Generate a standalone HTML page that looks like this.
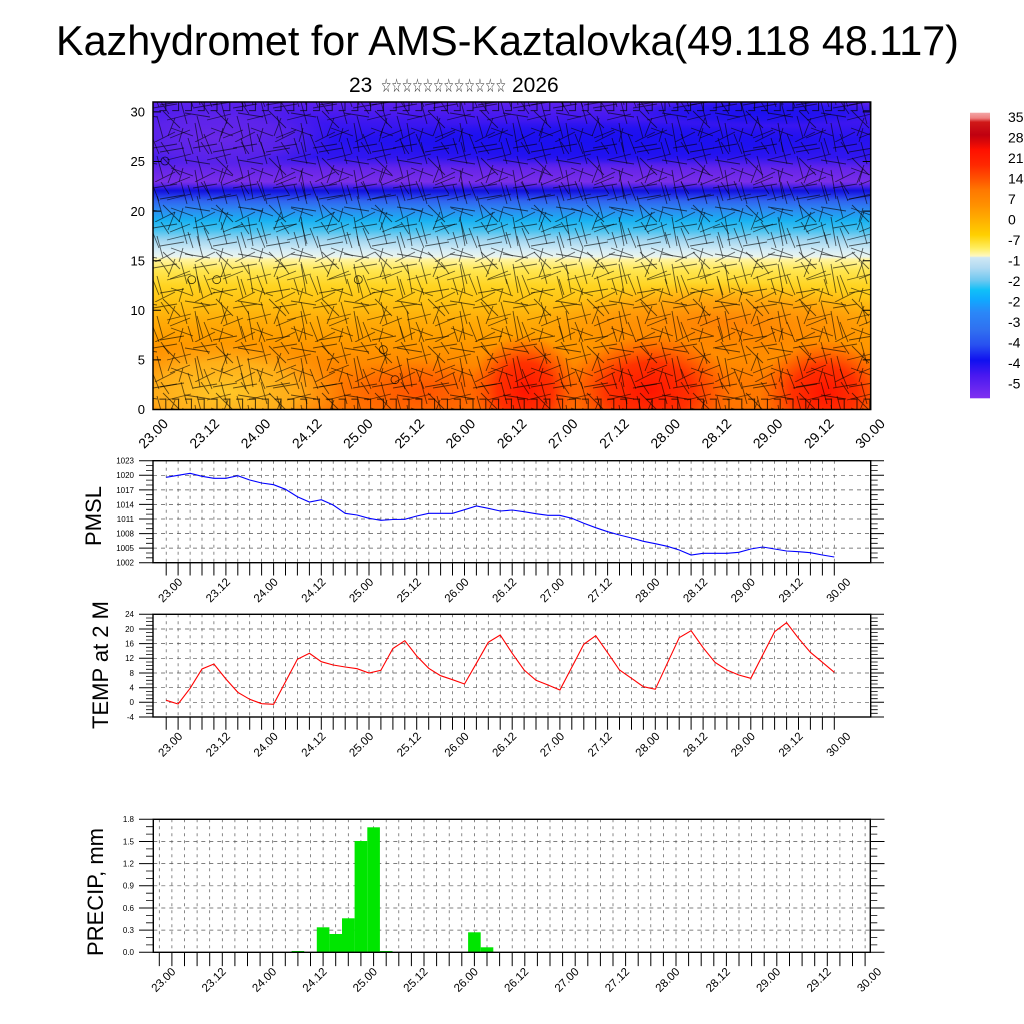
<!DOCTYPE html>
<html><head><meta charset="utf-8"><style>
html,body{margin:0;padding:0;background:#fff;overflow:hidden;width:1024px;height:1024px}
svg{display:block;font-family:"Liberation Sans","DejaVu Sans",sans-serif}
</style></head><body>
<svg width="1024" height="1024" viewBox="0 0 1024 1024" xmlns="http://www.w3.org/2000/svg">
<defs>
<linearGradient id="tg" gradientUnits="userSpaceOnUse" x1="0" y1="102" x2="0" y2="409.5">
<stop offset="0" stop-color="#5e22ec"/><stop offset="0.05" stop-color="#4418f0"/><stop offset="0.12" stop-color="#2612f0"/><stop offset="0.18" stop-color="#3016f0"/><stop offset="0.215" stop-color="#6424ea"/><stop offset="0.26" stop-color="#7a2ee8"/><stop offset="0.275" stop-color="#4a20e8"/><stop offset="0.288" stop-color="#1010dc"/><stop offset="0.302" stop-color="#2030e8"/><stop offset="0.322" stop-color="#3064f0"/><stop offset="0.352" stop-color="#2c8cf2"/><stop offset="0.386" stop-color="#18b2f2"/><stop offset="0.418" stop-color="#48c2f0"/><stop offset="0.45" stop-color="#a2d6f0"/><stop offset="0.482" stop-color="#d4ecf6"/><stop offset="0.503" stop-color="#eaf4ee"/><stop offset="0.512" stop-color="#fff4a0"/><stop offset="0.548" stop-color="#ffe650"/><stop offset="0.597" stop-color="#ffd422"/><stop offset="0.645" stop-color="#ffc414"/><stop offset="0.71" stop-color="#ffac08"/><stop offset="0.775" stop-color="#ff9c00"/><stop offset="0.84" stop-color="#ff8c00"/><stop offset="0.905" stop-color="#ff7c00"/><stop offset="1" stop-color="#ff7400"/>
</linearGradient>
<radialGradient id="rg"><stop offset="0" stop-color="#ff1400"/><stop offset="0.5" stop-color="#ff2400" stop-opacity="0.85"/><stop offset="1" stop-color="#ff4000" stop-opacity="0"/></radialGradient>
<radialGradient id="og"><stop offset="0" stop-color="#ff5200"/><stop offset="0.6" stop-color="#ff6000" stop-opacity="0.6"/><stop offset="1" stop-color="#ff7000" stop-opacity="0"/></radialGradient>
<radialGradient id="yg"><stop offset="0" stop-color="#ffc828"/><stop offset="0.6" stop-color="#ffbc20" stop-opacity="0.75"/><stop offset="1" stop-color="#ffb018" stop-opacity="0"/></radialGradient>
<radialGradient id="pg"><stop offset="0" stop-color="#6a28e8"/><stop offset="0.6" stop-color="#6a28e8" stop-opacity="0.7"/><stop offset="1" stop-color="#6a28e8" stop-opacity="0"/></radialGradient>
<radialGradient id="bgr"><stop offset="0" stop-color="#1a10f0"/><stop offset="0.6" stop-color="#1a10f0" stop-opacity="0.7"/><stop offset="1" stop-color="#1a10f0" stop-opacity="0"/></radialGradient>
<pattern id="wA" patternUnits="userSpaceOnUse" x="153" y="102" width="40" height="40">
<path d="M0 6L24 2M28 0L34 22M4 14L10 36M14 18L38 12M18 26L40 34M2 40L22 30M30 26L26 40M8 0L16 12" stroke="#000" stroke-opacity="0.6" stroke-width="0.9" fill="none"/>
</pattern>
<pattern id="wB" patternUnits="userSpaceOnUse" x="160" y="108" width="53" height="47">
<path d="M3 3L20 20M25 5L50 9M10 30L30 22M35 15L40 44M0 44L24 40M44 26L52 46M15 10L8 28M28 30L33 46" stroke="#000" stroke-opacity="0.6" stroke-width="0.9" fill="none"/>
</pattern>
<pattern id="bb" patternUnits="userSpaceOnUse" x="146.6" y="398.5" width="12.8" height="11">
<path d="M6.4 0V11M0 0.6H7" stroke="#000" stroke-opacity="0.75" stroke-width="1" fill="none"/>
</pattern>
<pattern id="bt" patternUnits="userSpaceOnUse" x="146.6" y="102" width="12.8" height="10">
<path d="M6.4 0V9M0 8.6H7" stroke="#000" stroke-opacity="0.7" stroke-width="1" fill="none"/>
</pattern>
<clipPath id="tc"><rect x="153" y="102" width="717.7" height="307.5"/></clipPath>
<linearGradient id="cb" x1="0" y1="0" x2="0" y2="1">
<stop offset="0" stop-color="#f4a6a6"/><stop offset="0.019" stop-color="#ee8080"/><stop offset="0.033" stop-color="#d01818"/><stop offset="0.078" stop-color="#c00010"/><stop offset="0.106" stop-color="#e00808"/><stop offset="0.13" stop-color="#ff1000"/><stop offset="0.183" stop-color="#ff2800"/><stop offset="0.229" stop-color="#ff5000"/><stop offset="0.271" stop-color="#ff7800"/><stop offset="0.323" stop-color="#ff9000"/><stop offset="0.376" stop-color="#ffb000"/><stop offset="0.428" stop-color="#ffd000"/><stop offset="0.474" stop-color="#ffee60"/><stop offset="0.502" stop-color="#fff8c0"/><stop offset="0.507" stop-color="#d0e8f4"/><stop offset="0.544" stop-color="#b0daf2"/><stop offset="0.586" stop-color="#70c8f0"/><stop offset="0.621" stop-color="#10c0f8"/><stop offset="0.656" stop-color="#10a8ff"/><stop offset="0.698" stop-color="#2a88f8"/><stop offset="0.761" stop-color="#3070f0"/><stop offset="0.814" stop-color="#2850f0"/><stop offset="0.867" stop-color="#1010f0"/><stop offset="0.919" stop-color="#4818f0"/><stop offset="1" stop-color="#8030f0"/>
</linearGradient>
<path id="gv" d="M166.2 0v102M178.1 0v102M190.1 0v102M202.0 0v102M213.9 0v102M225.9 0v102M237.8 0v102M249.7 0v102M261.6 0v102M273.6 0v102M285.5 0v102M297.4 0v102M309.4 0v102M321.3 0v102M333.2 0v102M345.2 0v102M357.1 0v102M369.0 0v102M380.9 0v102M392.9 0v102M404.8 0v102M416.7 0v102M428.7 0v102M440.6 0v102M452.5 0v102M464.5 0v102M476.4 0v102M488.3 0v102M500.2 0v102M512.2 0v102M524.1 0v102M536.0 0v102M548.0 0v102M559.9 0v102M571.8 0v102M583.8 0v102M595.7 0v102M607.6 0v102M619.5 0v102M631.5 0v102M643.4 0v102M655.3 0v102M667.3 0v102M679.2 0v102M691.1 0v102M703.1 0v102M715.0 0v102M726.9 0v102M738.8 0v102M750.8 0v102M762.7 0v102M774.6 0v102M786.6 0v102M798.5 0v102M810.4 0v102M822.4 0v102M834.3 0v102"/>
<path id="tk" d="M166.2 0v12.8M178.1 0v12.8M190.1 0v12.8M202.0 0v12.8M213.9 0v12.8M225.9 0v12.8M237.8 0v12.8M249.7 0v12.8M261.6 0v12.8M273.6 0v12.8M285.5 0v12.8M297.4 0v12.8M309.4 0v12.8M321.3 0v12.8M333.2 0v12.8M345.2 0v12.8M357.1 0v12.8M369.0 0v12.8M380.9 0v12.8M392.9 0v12.8M404.8 0v12.8M416.7 0v12.8M428.7 0v12.8M440.6 0v12.8M452.5 0v12.8M464.5 0v12.8M476.4 0v12.8M488.3 0v12.8M500.2 0v12.8M512.2 0v12.8M524.1 0v12.8M536.0 0v12.8M548.0 0v12.8M559.9 0v12.8M571.8 0v12.8M583.8 0v12.8M595.7 0v12.8M607.6 0v12.8M619.5 0v12.8M631.5 0v12.8M643.4 0v12.8M655.3 0v12.8M667.3 0v12.8M679.2 0v12.8M691.1 0v12.8M703.1 0v12.8M715.0 0v12.8M726.9 0v12.8M738.8 0v12.8M750.8 0v12.8M762.7 0v12.8M774.6 0v12.8M786.6 0v12.8M798.5 0v12.8M810.4 0v12.8M822.4 0v12.8M834.3 0v12.8"/>
<path id="pv" d="M159.3 0v133M171.9 0v133M184.5 0v133M197.1 0v133M209.7 0v133M222.3 0v133M234.9 0v133M247.5 0v133M260.1 0v133M272.7 0v133M285.3 0v133M297.9 0v133M310.5 0v133M323.1 0v133M335.7 0v133M348.3 0v133M360.9 0v133M373.6 0v133M386.2 0v133M398.8 0v133M411.4 0v133M424.0 0v133M436.6 0v133M449.2 0v133M461.8 0v133M474.4 0v133M487.0 0v133M499.6 0v133M512.2 0v133M524.8 0v133M537.4 0v133M550.0 0v133M562.6 0v133M575.2 0v133M587.8 0v133M600.4 0v133M613.0 0v133M625.6 0v133M638.2 0v133M650.8 0v133M663.4 0v133M676.0 0v133M688.6 0v133M701.2 0v133M713.8 0v133M726.4 0v133M739.0 0v133M751.6 0v133M764.2 0v133M776.8 0v133M789.5 0v133M802.1 0v133M814.7 0v133M827.3 0v133M839.9 0v133M852.5 0v133M865.1 0v133"/>
<path id="pt" d="M159.3 0v13.8M171.9 0v13.8M184.5 0v13.8M197.1 0v13.8M209.7 0v13.8M222.3 0v13.8M234.9 0v13.8M247.5 0v13.8M260.1 0v13.8M272.7 0v13.8M285.3 0v13.8M297.9 0v13.8M310.5 0v13.8M323.1 0v13.8M335.7 0v13.8M348.3 0v13.8M360.9 0v13.8M373.6 0v13.8M386.2 0v13.8M398.8 0v13.8M411.4 0v13.8M424.0 0v13.8M436.6 0v13.8M449.2 0v13.8M461.8 0v13.8M474.4 0v13.8M487.0 0v13.8M499.6 0v13.8M512.2 0v13.8M524.8 0v13.8M537.4 0v13.8M550.0 0v13.8M562.6 0v13.8M575.2 0v13.8M587.8 0v13.8M600.4 0v13.8M613.0 0v13.8M625.6 0v13.8M638.2 0v13.8M650.8 0v13.8M663.4 0v13.8M676.0 0v13.8M688.6 0v13.8M701.2 0v13.8M713.8 0v13.8M726.4 0v13.8M739.0 0v13.8M751.6 0v13.8M764.2 0v13.8M776.8 0v13.8M789.5 0v13.8M802.1 0v13.8M814.7 0v13.8M827.3 0v13.8M839.9 0v13.8M852.5 0v13.8M865.1 0v13.8"/>
</defs>

<!-- Title -->
<text x="507.5" y="55" font-size="41.3" text-anchor="middle" fill="#000">Kazhydromet for AMS-Kaztalovka(49.118 48.117)</text>
<text x="349" y="92" font-size="21" fill="#000">23</text>
<text x="381" y="92" font-size="19" fill="#222" textLength="125" lengthAdjust="spacingAndGlyphs" font-family="'DejaVu Sans',sans-serif">☆☆☆☆☆☆☆☆☆☆☆☆</text>
<text x="512" y="92" font-size="21" fill="#000">2026</text>

<!-- Top panel -->
<g clip-path="url(#tc)">
<rect x="153" y="102" width="718" height="308" fill="url(#tg)"/>
<ellipse cx="215" cy="138" rx="120" ry="34" fill="url(#pg)"/>
<ellipse cx="600" cy="142" rx="260" ry="22" fill="url(#bgr)"/>
<ellipse cx="760" cy="112" rx="140" ry="14" fill="url(#bgr)"/>
<ellipse cx="720" cy="322" rx="190" ry="40" fill="url(#og)" opacity="0.45"/>
<ellipse cx="420" cy="392" rx="90" ry="34" fill="url(#og)"/>
<ellipse cx="525" cy="390" rx="55" ry="55" fill="url(#rg)"/>
<ellipse cx="650" cy="390" rx="85" ry="55" fill="url(#rg)"/>
<ellipse cx="825" cy="392" rx="65" ry="52" fill="url(#rg)"/>
<ellipse cx="225" cy="392" rx="120" ry="50" fill="url(#yg)"/>
<rect x="153" y="102" width="718" height="308" fill="url(#wA)"/>
<rect x="153" y="102" width="718" height="308" fill="url(#wB)"/>
<rect x="153" y="398.5" width="718" height="11" fill="url(#bb)"/>
<rect x="153" y="102" width="718" height="10" fill="url(#bt)"/>
<g fill="none" stroke="#000" stroke-width="0.8" stroke-opacity="0.8">
<circle cx="165" cy="161" r="4"/><circle cx="191.7" cy="279.7" r="4"/><circle cx="216.7" cy="279.7" r="4"/><circle cx="358.3" cy="279.7" r="4"/><circle cx="383.3" cy="349.7" r="4"/><circle cx="395" cy="379.7" r="4"/>
</g>
</g>
<g stroke="#000" stroke-width="1">
<path d="M153 359.9h8M153 310.3h8M153 260.7h8M153 211.1h8M153 161.5h8M153 111.9h8M870.7 359.9h-8M870.7 310.3h-8M870.7 260.7h-8M870.7 211.1h-8M870.7 161.5h-8M870.7 111.9h-8"/>
</g>
<rect x="153" y="102" width="717.7" height="307.5" fill="none" stroke="#000" stroke-width="1.5"/>
<g font-size="13" text-anchor="end" fill="#000">
<text x="145" y="414.2">0</text><text x="145" y="364.6">5</text><text x="145" y="315">10</text><text x="145" y="265.4">15</text><text x="145" y="215.8">20</text><text x="145" y="166.2">25</text><text x="145" y="116.6">30</text>
</g>
<g font-size="14" text-anchor="end" fill="#000">
<text transform="translate(169 424.5) rotate(-45)">23.00</text>
<text transform="translate(220.2 424.5) rotate(-45)">23.12</text>
<text transform="translate(271.4 424.5) rotate(-45)">24.00</text>
<text transform="translate(322.6 424.5) rotate(-45)">24.12</text>
<text transform="translate(373.8 424.5) rotate(-45)">25.00</text>
<text transform="translate(425.1 424.5) rotate(-45)">25.12</text>
<text transform="translate(476.3 424.5) rotate(-45)">26.00</text>
<text transform="translate(527.5 424.5) rotate(-45)">26.12</text>
<text transform="translate(578.7 424.5) rotate(-45)">27.00</text>
<text transform="translate(629.9 424.5) rotate(-45)">27.12</text>
<text transform="translate(681.1 424.5) rotate(-45)">28.00</text>
<text transform="translate(732.3 424.5) rotate(-45)">28.12</text>
<text transform="translate(783.5 424.5) rotate(-45)">29.00</text>
<text transform="translate(834.7 424.5) rotate(-45)">29.12</text>
<text transform="translate(885.9 424.5) rotate(-45)">30.00</text>
</g>

<!-- Colorbar -->
<rect x="970" y="112.7" width="20" height="285.6" fill="url(#cb)"/>
<g font-size="14" fill="#000">
<text x="1008" y="122">35</text><text x="1008" y="142.5">28</text><text x="1008" y="163">21</text><text x="1008" y="183.5">14</text><text x="1008" y="204">7</text><text x="1008" y="224.5">0</text><text x="1008" y="245">-7</text><text x="1008" y="265.5">-1</text><text x="1008" y="286">-2</text><text x="1008" y="306.5">-2</text><text x="1008" y="327">-3</text><text x="1008" y="347.5">-4</text><text x="1008" y="368">-4</text><text x="1008" y="388.5">-5</text>
</g>

<!-- PMSL panel -->
<use href="#gv" transform="translate(0 460.7)" stroke="#555" stroke-width="0.7" stroke-dasharray="3 4" fill="none"/>
<path d="M153 475.3H870.7M153 489.9H870.7M153 504.4H870.7M153 519H870.7M153 533.6H870.7M153 548.1H870.7" stroke="#555" stroke-width="0.7" stroke-dasharray="4 4" fill="none"/>
<polyline fill="none" stroke="#0000ff" stroke-width="1.1" points="166.2,477.3 178.1,475.3 190.1,473.3 202.0,476.3 213.9,478.3 225.9,478.3 237.8,475.7 249.7,480 261.6,483 273.6,484.7 285.5,489.3 297.4,496.7 309.4,502 321.3,499.7 333.2,505 345.2,513.3 357.1,515 369.0,518.3 380.9,520.3 392.9,519.5 404.8,519.3 416.7,516 428.7,513.3 440.6,513.3 452.5,513.3 464.5,509.7 476.4,506 488.3,508.3 500.2,511 512.2,510 524.1,511.7 536.0,513.7 548.0,515.3 559.9,515.3 571.8,518.3 583.8,523.3 595.7,527.7 607.6,531.7 619.5,535 631.5,538 643.4,541.3 655.3,543.7 667.3,546.3 679.2,550 691.1,555 703.1,553.3 715.0,553.3 726.9,553.3 738.8,552.3 750.8,549 762.7,547 774.6,549 786.6,551 798.5,551.7 810.4,552.7 822.4,555 834.3,557"/>
<use href="#tk" transform="translate(0 562.7)" stroke="#000" stroke-width="1" fill="none"/>
<path d="M139 460.7H153M139 475.3H153M139 489.9H153M139 504.4H153M139 519H153M139 533.6H153M139 548.1H153M139 562.7H153M870.7 460.7H884M870.7 475.3H884M870.7 489.9H884M870.7 504.4H884M870.7 519H884M870.7 533.6H884M870.7 548.1H884M870.7 562.7H884" stroke="#000" stroke-width="1"/>
<path d="M146 465.6H153M146 470.4H153M146 480.1H153M146 485H153M146 494.7H153M146 499.6H153M146 509.3H153M146 514.1H153M146 523.9H153M146 528.7H153M146 538.4H153M146 543.3H153M146 553H153M146 557.8H153M870.7 465.6H877.7M870.7 470.4H877.7M870.7 480.1H877.7M870.7 485H877.7M870.7 494.7H877.7M870.7 499.6H877.7M870.7 509.3H877.7M870.7 514.1H877.7M870.7 523.9H877.7M870.7 528.7H877.7M870.7 538.4H877.7M870.7 543.3H877.7M870.7 553H877.7M870.7 557.8H877.7" stroke="#000" stroke-width="0.8"/>
<rect x="153" y="460.7" width="717.7" height="102" fill="none" stroke="#000" stroke-width="1.4"/>
<g font-size="8" text-anchor="end" fill="#000">
<text x="134" y="463.6">1023</text><text x="134" y="478.2">1020</text><text x="134" y="492.8">1017</text><text x="134" y="507.3">1014</text><text x="134" y="521.9">1011</text><text x="134" y="536.5">1008</text><text x="134" y="551">1005</text><text x="134" y="565.6">1002</text>
</g>
<text transform="translate(101 516) rotate(-90)" font-size="22" text-anchor="middle" fill="#000">PMSL</text>
<g font-size="11.5" text-anchor="end" fill="#000">
<text transform="translate(183.2 582.7) rotate(-45)">23.00</text>
<text transform="translate(230.9 582.7) rotate(-45)">23.12</text>
<text transform="translate(278.6 582.7) rotate(-45)">24.00</text>
<text transform="translate(326.4 582.7) rotate(-45)">24.12</text>
<text transform="translate(374.1 582.7) rotate(-45)">25.00</text>
<text transform="translate(421.8 582.7) rotate(-45)">25.12</text>
<text transform="translate(469.5 582.7) rotate(-45)">26.00</text>
<text transform="translate(517.2 582.7) rotate(-45)">26.12</text>
<text transform="translate(565.0 582.7) rotate(-45)">27.00</text>
<text transform="translate(612.7 582.7) rotate(-45)">27.12</text>
<text transform="translate(660.4 582.7) rotate(-45)">28.00</text>
<text transform="translate(708.1 582.7) rotate(-45)">28.12</text>
<text transform="translate(755.8 582.7) rotate(-45)">29.00</text>
<text transform="translate(803.6 582.7) rotate(-45)">29.12</text>
<text transform="translate(851.3 582.7) rotate(-45)">30.00</text>
</g>

<!-- TEMP panel -->
<use href="#gv" transform="translate(0 614.3)" stroke="#555" stroke-width="0.7" stroke-dasharray="3 4" fill="none"/>
<path d="M153 629H870.7M153 643.6H870.7M153 658.3H870.7M153 673H870.7M153 687.7H870.7M153 702.3H870.7" stroke="#555" stroke-width="0.7" stroke-dasharray="4 4" fill="none"/>
<polyline fill="none" stroke="#ff0000" stroke-width="1.1" points="166.2,700.3 178.1,704 190.1,688.3 202.0,669 213.9,664 225.9,679 237.8,692.3 249.7,699.3 261.6,703.7 273.6,704.3 285.5,681.7 297.4,659.3 309.4,653.3 321.3,661.7 333.2,665 345.2,667 357.1,668.7 369.0,673 380.9,670.3 392.9,648.5 404.8,640.7 416.7,656 428.7,668.3 440.6,675.7 452.5,679.7 464.5,684 476.4,663.3 488.3,642.3 500.2,635 512.2,653.3 524.1,670 536.0,680.3 548.0,685 559.9,690 571.8,667.3 583.8,644.3 595.7,635.7 607.6,652.7 619.5,670 631.5,678.3 643.4,686.7 655.3,689.3 667.3,663.3 679.2,637.7 691.1,630.7 703.1,647.7 715.0,662.3 726.9,670 738.8,675 750.8,678.3 762.7,655 774.6,631.7 786.6,622.7 798.5,638.3 810.4,652.3 822.4,662.3 834.3,672.3"/>
<use href="#tk" transform="translate(0 717)" stroke="#000" stroke-width="1" fill="none"/>
<path d="M139 614.3H153M139 629H153M139 643.6H153M139 658.3H153M139 673H153M139 687.7H153M139 702.3H153M139 717H153M870.7 614.3H884M870.7 629H884M870.7 643.6H884M870.7 658.3H884M870.7 673H884M870.7 687.7H884M870.7 702.3H884M870.7 717H884" stroke="#000" stroke-width="1"/>
<path d="M146 618H153M146 621.6H153M146 625.3H153M146 632.6H153M146 636.3H153M146 640H153M146 647.3H153M146 651H153M146 654.6H153M146 662H153M146 665.6H153M146 669.3H153M146 676.6H153M146 680.3H153M146 684H153M146 691.4H153M146 695H153M146 698.7H153M146 706H153M146 709.7H153M146 713.3H153M870.7 618H877.7M870.7 621.6H877.7M870.7 625.3H877.7M870.7 632.6H877.7M870.7 636.3H877.7M870.7 640H877.7M870.7 647.3H877.7M870.7 651H877.7M870.7 654.6H877.7M870.7 662H877.7M870.7 665.6H877.7M870.7 669.3H877.7M870.7 676.6H877.7M870.7 680.3H877.7M870.7 684H877.7M870.7 691.4H877.7M870.7 695H877.7M870.7 698.7H877.7M870.7 706H877.7M870.7 709.7H877.7M870.7 713.3H877.7" stroke="#000" stroke-width="0.8"/>
<rect x="153" y="614.3" width="717.7" height="102.7" fill="none" stroke="#000" stroke-width="1.4"/>
<g font-size="8" text-anchor="end" fill="#000">
<text x="134" y="617.2">24</text><text x="134" y="631.9">20</text><text x="134" y="646.5">16</text><text x="134" y="661.2">12</text><text x="134" y="675.9">8</text><text x="134" y="690.6">4</text><text x="134" y="705.2">0</text><text x="134" y="719.9">-4</text>
</g>
<text transform="translate(108 665) rotate(-90)" font-size="22" text-anchor="middle" fill="#000">TEMP at 2 M</text>
<g font-size="11.5" text-anchor="end" fill="#000">
<text transform="translate(183.2 737) rotate(-45)">23.00</text>
<text transform="translate(230.9 737) rotate(-45)">23.12</text>
<text transform="translate(278.6 737) rotate(-45)">24.00</text>
<text transform="translate(326.4 737) rotate(-45)">24.12</text>
<text transform="translate(374.1 737) rotate(-45)">25.00</text>
<text transform="translate(421.8 737) rotate(-45)">25.12</text>
<text transform="translate(469.5 737) rotate(-45)">26.00</text>
<text transform="translate(517.2 737) rotate(-45)">26.12</text>
<text transform="translate(565.0 737) rotate(-45)">27.00</text>
<text transform="translate(612.7 737) rotate(-45)">27.12</text>
<text transform="translate(660.4 737) rotate(-45)">28.00</text>
<text transform="translate(708.1 737) rotate(-45)">28.12</text>
<text transform="translate(755.8 737) rotate(-45)">29.00</text>
<text transform="translate(803.6 737) rotate(-45)">29.12</text>
<text transform="translate(851.3 737) rotate(-45)">30.00</text>
</g>

<!-- PRECIP panel -->
<use href="#pv" transform="translate(0 819.3)" stroke="#555" stroke-width="0.7" stroke-dasharray="3 4" fill="none"/>
<path d="M153.3 841.5H870.3M153.3 863.6H870.3M153.3 885.8H870.3M153.3 908H870.3M153.3 930.1H870.3" stroke="#555" stroke-width="0.7" stroke-dasharray="4 4" fill="none"/>
<g fill="#00e600">
<rect x="291.6" y="951" width="12.6" height="1.3"/>
<rect x="316.8" y="927.3" width="12.6" height="25"/>
<rect x="329.4" y="934" width="12.6" height="18.3"/>
<rect x="342.0" y="918.3" width="12.6" height="34"/>
<rect x="354.6" y="841" width="12.7" height="111.3"/>
<rect x="367.3" y="827.3" width="12.6" height="125"/>
<rect x="379.9" y="951" width="12.6" height="1.3"/>
<rect x="468.1" y="932.3" width="12.6" height="20"/>
<rect x="480.7" y="947.3" width="12.6" height="5"/>
</g>
<use href="#pt" transform="translate(0 952.3)" stroke="#000" stroke-width="1" fill="none"/>
<path d="M139 819.3H153.3M139 841.5H153.3M139 863.6H153.3M139 885.8H153.3M139 908H153.3M139 930.1H153.3M139 952.3H153.3M870.3 819.3H884.5M870.3 841.5H884.5M870.3 863.6H884.5M870.3 885.8H884.5M870.3 908H884.5M870.3 930.1H884.5M870.3 952.3H884.5" stroke="#000" stroke-width="1"/>
<path d="M146 826.7H153.3M146 834.1H153.3M146 848.9H153.3M146 856.2H153.3M146 871H153.3M146 878.4H153.3M146 893.2H153.3M146 900.6H153.3M146 915.4H153.3M146 922.8H153.3M146 937.5H153.3M146 944.9H153.3M870.3 826.7H877.3M870.3 834.1H877.3M870.3 848.9H877.3M870.3 856.2H877.3M870.3 871H877.3M870.3 878.4H877.3M870.3 893.2H877.3M870.3 900.6H877.3M870.3 915.4H877.3M870.3 922.8H877.3M870.3 937.5H877.3M870.3 944.9H877.3" stroke="#000" stroke-width="0.8"/>
<rect x="153.3" y="819.3" width="717" height="133" fill="none" stroke="#000" stroke-width="1.4"/>
<g font-size="8" text-anchor="end" fill="#000">
<text x="134" y="822.2">1.8</text><text x="134" y="844.4">1.5</text><text x="134" y="866.5">1.2</text><text x="134" y="888.7">0.9</text><text x="134" y="910.9">0.6</text><text x="134" y="933">0.3</text><text x="134" y="955.2">0.0</text>
</g>
<text transform="translate(103 892) rotate(-90)" font-size="22" text-anchor="middle" fill="#000">PRECIP, mm</text>
<g font-size="11.5" text-anchor="end" fill="#000">
<text transform="translate(176.3 972.3) rotate(-45)">23.00</text>
<text transform="translate(226.7 972.3) rotate(-45)">23.12</text>
<text transform="translate(277.1 972.3) rotate(-45)">24.00</text>
<text transform="translate(327.5 972.3) rotate(-45)">24.12</text>
<text transform="translate(377.9 972.3) rotate(-45)">25.00</text>
<text transform="translate(428.4 972.3) rotate(-45)">25.12</text>
<text transform="translate(478.8 972.3) rotate(-45)">26.00</text>
<text transform="translate(529.2 972.3) rotate(-45)">26.12</text>
<text transform="translate(579.6 972.3) rotate(-45)">27.00</text>
<text transform="translate(630.0 972.3) rotate(-45)">27.12</text>
<text transform="translate(680.4 972.3) rotate(-45)">28.00</text>
<text transform="translate(730.8 972.3) rotate(-45)">28.12</text>
<text transform="translate(781.2 972.3) rotate(-45)">29.00</text>
<text transform="translate(831.7 972.3) rotate(-45)">29.12</text>
<text transform="translate(882.1 972.3) rotate(-45)">30.00</text>
</g>
</svg>
</body></html>
